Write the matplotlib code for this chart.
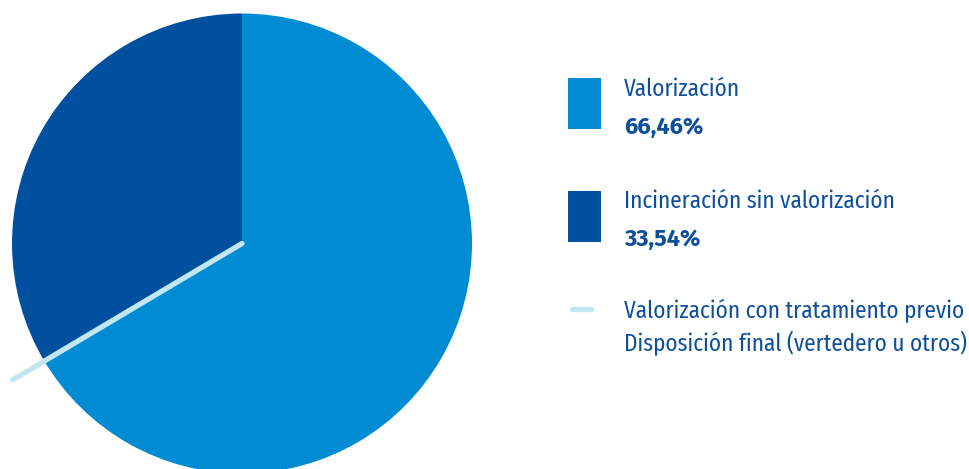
import numpy as np
import matplotlib.pyplot as plt
from matplotlib.patches import Rectangle

# data
labels = ["Incineración sin valorización",
          "Valorización con tratamiento previo\nDisposición final (vertedero u otros)",
          "Valorización"]
values = [33.54, 0.0, 66.46]
value_labels = ["33,54%", "", "66,46%"]
colors = ["#01509f", "#c2e7f3", "#008bd2"]

TEXT = "#0d4f9c"
FONT = ["Fira Sans Condensed", "DejaVu Sans"]
FONT_BOLD = ["Fira Sans", "DejaVu Sans"]
H = 469

fig = plt.figure(figsize=(9.7, 4.69), dpi=100)
ax = fig.add_axes([0, 0, 1, 1])

cx, cy, r = 242, H - 243.5, 230
ax.pie(values, colors=colors, startangle=90, counterclock=True,
       center=(cx, cy), radius=r, frame=True,
       wedgeprops=dict(linewidth=0))
ax.set_xlim(0, 970)
ax.set_ylim(0, H)
ax.set_aspect("equal")
ax.axis("off")

# zero-size category drawn as a line at its boundary angle
ang = np.deg2rad(90 + 360 * sum(values[:2]) / sum(values))
ax.plot([cx, cx + 1.16 * r * np.cos(ang)], [cy, cy + 1.16 * r * np.sin(ang)],
        color=colors[1], lw=3.8, solid_capstyle="round", zorder=5)

# legend
def txt(x, y, s, bold=False):
    if bold:
        ax.text(x, H - y, s, fontsize=17, color=TEXT, family=FONT_BOLD,
                fontweight="bold", va="baseline", ha="left")
    else:
        ax.text(x, H - y, s, fontsize=16.7, color=TEXT, family=FONT,
                va="baseline", ha="left")

ax.add_patch(Rectangle((568, H - 129), 33, 51, color=colors[2], lw=0))
txt(624, 96, labels[2])
txt(624, 134, value_labels[2], bold=True)

ax.add_patch(Rectangle((568, H - 242), 33, 51, color=colors[0], lw=0))
txt(624, 208, labels[0])
txt(624, 246, value_labels[0], bold=True)

ax.plot([572, 591], [H - 309, H - 309], color=colors[1], lw=3.8,
        solid_capstyle="round")
line1, line2 = labels[1].split("\n")
txt(624, 318, line1)
txt(624, 351, line2)

fig.savefig("out.png", dpi=100)
